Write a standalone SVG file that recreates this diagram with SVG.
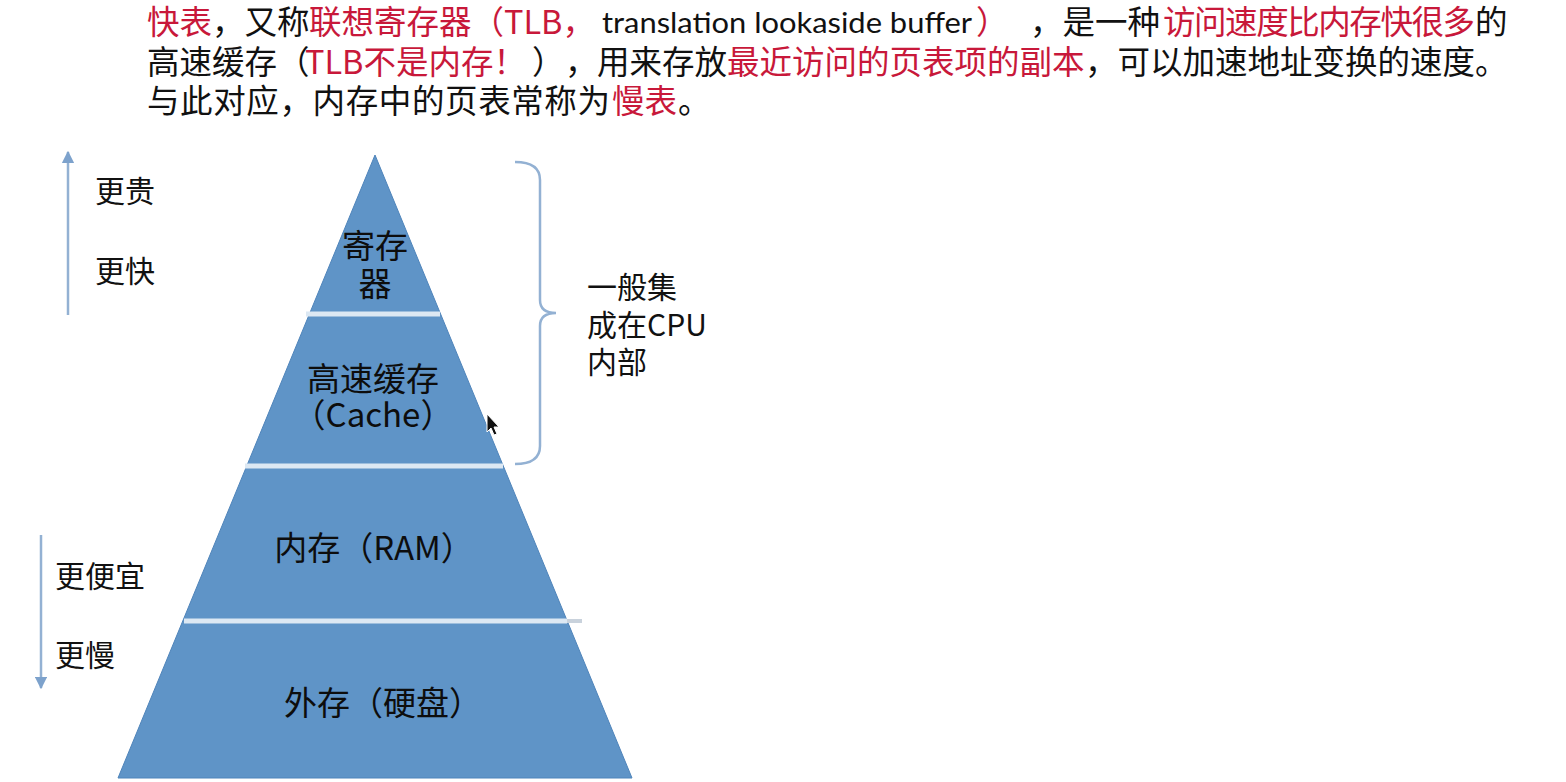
<svg xmlns="http://www.w3.org/2000/svg" width="1566" height="782" viewBox="0 0 1566 782">
<style>
.t{font-family:"Noto Sans CJK SC","Noto Sans",sans-serif;fill:#111;}
.top{font-size:32.5px;}
.r{fill:#c8183a;}
.lat{font-family:Lato,"Open Sans","Noto Sans CJK SC",sans-serif;font-size:29px;fill:#111;}
.side{font-size:30px;}
.pl{font-size:33px;text-anchor:middle;fill:#0d0d0d;}
.sep{stroke:#dce8f3;stroke-width:5;}
.ax{stroke:#93b1d3;stroke-width:2.5;fill:none;}
</style>
<defs>
<marker id="ah" viewBox="0 0 10 10" refX="9" refY="5" markerWidth="5" markerHeight="5" orient="auto-start-reverse">
<path d="M0,0 L10,5 L0,10 z" fill="#7da2cc"/>
</marker>
</defs>
<rect width="1566" height="782" fill="#ffffff"/>

<g id="intro-text">
<text class="t top" y="34"><tspan x="147" class="r">快表</tspan><tspan x="212">，又称</tspan><tspan x="309" class="r">联想寄存器（TLB，</tspan></text>
<text class="lat" x="602" y="33" textLength="370" lengthAdjust="spacingAndGlyphs">translation lookaside buffer</text>
<text class="t top" y="34"><tspan x="976" class="r">）</tspan><tspan x="1030">，是一种</tspan><tspan x="1163" class="r" textLength="312" lengthAdjust="spacing">访问速度比内存快很多</tspan><tspan x="1475">的</tspan></text>
<text class="t top" y="74"><tspan x="147">高速缓存（</tspan><tspan x="305" class="r">TLB不是内存！</tspan><tspan x="532">）</tspan><tspan x="565">，</tspan><tspan x="597">用来存放</tspan><tspan x="727" class="r">最近访问的页表项的副本</tspan><tspan x="1085">，可以加速地址变换的速度。</tspan></text>
<text class="t top" y="113"><tspan x="147" textLength="463" lengthAdjust="spacing">与此对应，内存中的页表常称为</tspan><tspan x="612" class="r">慢表</tspan><tspan x="678">。</tspan></text>
</g>

<g id="pyramid">
<polygon points="375,155 632,778 118,778" fill="#5f94c7" stroke="#4f84ba" stroke-width="1"/>
<line class="sep" x1="306" y1="314" x2="440" y2="314"/>
<line class="sep" x1="245" y1="466" x2="503" y2="466"/>
<line class="sep" x1="184" y1="621" x2="567" y2="621"/>
<line x1="567" y1="621" x2="582" y2="621" stroke="#c9d2dc" stroke-width="4"/>
</g>

<g id="level-register">
<text class="t pl" x="375" y="258">寄存</text>
<text class="t pl" x="375" y="296">器</text>
</g>
<g id="level-cache">
<text class="t pl" x="373" y="391">高速缓存</text>
<text class="t pl" x="373" y="427">（Cache）</text>
</g>
<g id="level-ram">
<text class="t pl" x="374" y="560">内存（RAM）</text>
</g>
<g id="level-disk">
<text class="t pl" x="383" y="715">外存（硬盘）</text>
</g>

<g id="connectors">
<line class="ax" x1="68" y1="315" x2="68" y2="152" marker-end="url(#ah)"/>
<line class="ax" x1="41" y1="535" x2="41" y2="688" marker-end="url(#ah)"/>
<path class="ax" d="M515,162 Q540,162 540,180 L540,300 Q540,313 556,313 Q540,313 540,326 L540,446 Q540,464 515,464" stroke="#9cb4d0" stroke-width="2"/>
</g>

<g id="label-up">
<text class="t side" x="95" y="202">更贵</text>
<text class="t side" x="95" y="282">更快</text>
</g>
<g id="label-down">
<text class="t side" x="55" y="587">更便宜</text>
<text class="t side" x="55" y="666">更慢</text>
</g>
<g id="label-cpu">
<text class="t side" x="587" y="298">一般集</text>
<text class="t side" x="587" y="336">成在CPU</text>
<text class="t side" x="587" y="373">内部</text>
</g>

<g id="cursor">
<path d="M487,414 L487,432 L491,428 L494,435 L497,434 L494,427 L499,427 z" fill="#111" stroke="#fff" stroke-width="1"/>
</g>
</svg>
